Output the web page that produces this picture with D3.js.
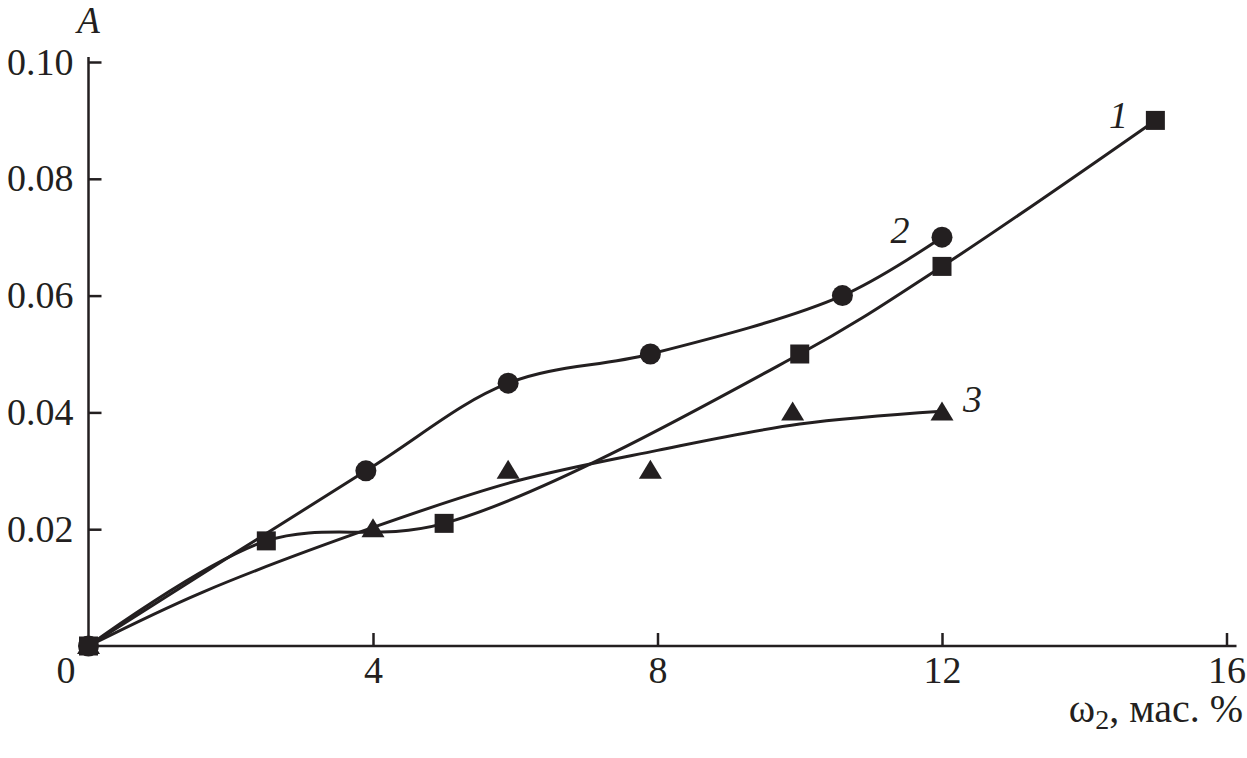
<!DOCTYPE html>
<html><head><meta charset="utf-8">
<script src="https://cdn.jsdelivr.net/npm/d3@7"></script>
<style>
body{margin:0;background:#fff;}
text{font-family:"Liberation Serif","DejaVu Serif",serif;fill:#231f20;}
</style></head>
<body><svg id="c" width="1247" height="758"></svg>
<script>
// data
const series1X = [0, 2.5, 5.0, 10.0, 12.0, 15.0];
const series1Y = [0, 0.018, 0.021, 0.050, 0.065, 0.090];
const series2X = [0, 3.9, 5.9, 7.9, 10.6, 12.0];
const series2Y = [0, 0.030, 0.045, 0.050, 0.060, 0.070];
const series3X = [0, 4.0, 5.9, 7.9, 9.9, 12.0];
const series3Y = [0, 0.020, 0.030, 0.030, 0.040, 0.040];
// fitted curve for series 3
const fit3X = [0, 1.6, 4.0, 6.0, 8.0, 10.0, 12.0];
const fit3Y = [0, 0.0092, 0.0203, 0.0282, 0.0335, 0.0380, 0.0402];
const xTicks = [0, 4, 8, 12, 16];
const yTicks = [0.02, 0.04, 0.06, 0.08, 0.10];
const curveLabels = ["1", "2", "3"];
const curveLabelX = [14.48, 11.41, 12.43];
const curveLabelY = [0.0887, 0.0690, 0.0401];
const yTitle = "A";
const xTitleMain = "ω";
const xTitleSub = "2";
const xTitleRest = ", мас. %";

const svg = d3.select("#c");
const W = 1247, H = 758;
const m = {left: 88.5, top: 62, right: 20.5, bottom: 112};
const x = d3.scaleLinear().domain([0, 16]).range([m.left, W - m.right]);
const y = d3.scaleLinear().domain([0, 0.10]).range([H - m.bottom, m.top]);
const ink = "#231f20";

// axes lines
svg.append("line").attr("x1", x(0)).attr("x2", x(16) + 10).attr("y1", y(0)).attr("y2", y(0))
  .attr("stroke", ink).attr("stroke-width", 2.5);
svg.append("line").attr("x1", x(0)).attr("x2", x(0)).attr("y1", y(0)).attr("y2", y(0.10) - 5)
  .attr("stroke", ink).attr("stroke-width", 2.5);

const xa = svg.append("g").attr("transform", `translate(0,${y(0)})`)
  .call(d3.axisBottom(x).tickValues(xTicks).tickSize(-13).tickPadding(10).tickFormat(d3.format("d")));
xa.select(".domain").remove();
xa.selectAll("line").attr("stroke", ink).attr("stroke-width", 2.5);
xa.selectAll(".tick").filter(d => d === 0).select("line").remove();
xa.selectAll(".tick").filter(d => d === 0).select("text").attr("x", -23);
xa.selectAll("text").attr("font-size", 38).attr("fill", ink).style("font-family", "Liberation Serif");

const ya = svg.append("g").attr("transform", `translate(${x(0)},0)`)
  .call(d3.axisLeft(y).tickValues(yTicks).tickSize(-13).tickPadding(15).tickFormat(d3.format(".2f")));
ya.select(".domain").remove();
ya.selectAll("line").attr("stroke", ink).attr("stroke-width", 2.5);
ya.selectAll("text").attr("font-size", 38).attr("fill", ink).style("font-family", "Liberation Serif");

// titles
svg.append("text").attr("x", x(0)).attr("y", 33).attr("text-anchor", "middle")
  .attr("font-size", 37).attr("font-style", "italic").text(yTitle);
const xt = svg.append("text").attr("x", W - 4).attr("y", 722).attr("text-anchor", "end")
  .attr("font-size", 40);
xt.append("tspan").text(xTitleMain);
xt.append("tspan").attr("font-size", 28).attr("dy", 7).text(xTitleSub);
xt.append("tspan").attr("dy", -7).text(xTitleRest);

// lines
const line = d3.line().x(d => x(d[0])).y(d => y(d[1])).curve(d3.curveCatmullRom.alpha(0.5));
const zip = (a, b) => a.map((v, i) => [v, b[i]]);
const s1 = zip(series1X, series1Y), s2 = zip(series2X, series2Y), s3 = zip(series3X, series3Y);
const f3 = zip(fit3X, fit3Y);
[s1, s2, f3].forEach(d => {
  svg.append("path").datum(d).attr("d", line).attr("fill", "none")
    .attr("stroke", ink).attr("stroke-width", 3);
});

// markers
svg.append("g").selectAll("path").data(s3).join("path")
  .attr("transform", d => `translate(${x(d[0])},${y(d[1])})`)
  .attr("d", "M0,-11 L11.5,8 L-11.5,8 Z").attr("fill", ink);
svg.append("g").selectAll("rect").data(s1).join("rect")
  .attr("x", d => x(d[0]) - 9.5).attr("y", d => y(d[1]) - 9.5)
  .attr("width", 19).attr("height", 19).attr("fill", ink);
svg.append("g").selectAll("circle").data(s2).join("circle")
  .attr("cx", d => x(d[0])).attr("cy", d => y(d[1])).attr("r", 10.5).attr("fill", ink);

// curve labels
svg.append("g").selectAll("text").data(curveLabels).join("text")
  .attr("x", (d, i) => x(curveLabelX[i])).attr("y", (d, i) => y(curveLabelY[i]))
  .attr("text-anchor", "middle").attr("font-size", 38).attr("font-style", "italic").text(d => d);
</script></body></html>
